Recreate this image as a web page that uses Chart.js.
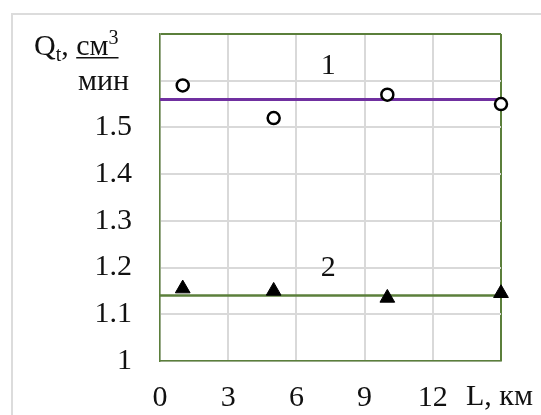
<!DOCTYPE html>
<html>
<head>
<meta charset="utf-8">
<script src="https://cdn.jsdelivr.net/npm/chart.js@4"></script>
<style>
  html, body { margin: 0; padding: 0; background: #fff; }
  #wrap { width: 541px; height: 415px; }
</style>
</head>
<body>
<div id="wrap"><canvas id="myChart" width="541" height="415"></canvas></div>
<script>
const distance = [1, 5, 10, 15];
const flow1 = [1.59, 1.52, 1.57, 1.55];
const flow2 = [1.155, 1.15, 1.135, 1.145];
const lineX = [0, 15];
const mean1 = 1.56;
const mean2 = 1.14;
const curveLabels = ['1', '2'];
const curveLabelX = [7.4, 7.4];
const curveLabelY = [1.637, 1.205];

const serif = "'Liberation Serif', 'Times New Roman', serif";
const green = '#5b7f3b';
const grey = '#d9d9d9';

Chart.defaults.font.family = serif;
Chart.defaults.font.size = 30;
Chart.defaults.color = '#111';

const frame = {
    id: 'frame',
    beforeDraw(chart) {
        const c = chart.ctx;
        c.save();
        c.fillStyle = '#fff';
        c.fillRect(0, 0, chart.width, chart.height);
        c.strokeStyle = '#dcdcdc';
        c.lineWidth = 2;
        c.strokeRect(12, 14, 700, 700);
        c.restore();
    },
    afterDraw(chart) {
        const c = chart.ctx;
        const { x, y } = chart.scales;
        c.save();
        c.fillStyle = '#111';
        c.textBaseline = 'alphabetic';

        // axis titles
        c.font = '30px ' + serif;
        c.textAlign = 'left';
        let px = 34;
        c.fillText('Q', px, 55);
        px += c.measureText('Q').width;
        c.font = '20px ' + serif;
        c.fillText('t', px, 61);
        px += c.measureText('t').width;
        c.font = '30px ' + serif;
        c.fillText(', ', px, 55);
        px += c.measureText(', ').width;
        const start = px;
        c.fillText('см', px, 55);
        px += c.measureText('см').width;
        c.font = '20px ' + serif;
        c.fillText('3', px, 44);
        px += c.measureText('3').width;
        c.fillRect(start, 57, px - start, 1.5);
        c.font = '30px ' + serif;
        c.textAlign = 'right';
        c.fillText('мин', 129, 90);
        c.textAlign = 'left';
        c.fillText('L, км', 466, 405);

        // curve numbers
        c.textAlign = 'center';
        curveLabels.forEach((t, i) => {
            c.fillText(t, x.getPixelForValue(curveLabelX[i]), y.getPixelForValue(curveLabelY[i]) + 11);
        });
        c.restore();
    }
};

new Chart(document.getElementById('myChart'), {
    type: 'scatter',
    data: {
        datasets: [
            {
                data: distance.map((d, i) => ({ x: d, y: flow1[i] })),
                pointStyle: 'circle',
                pointRadius: 6,
                pointBorderWidth: 2.5,
                pointBackgroundColor: '#fff',
                pointBorderColor: '#000',
                clip: false,
                order: 0
            },
            {
                data: distance.map((d, i) => ({ x: d, y: flow2[i] })),
                pointStyle: 'triangle',
                pointRadius: 8.5,
                pointBorderWidth: 1,
                pointBackgroundColor: '#000',
                pointBorderColor: '#000',
                clip: false,
                order: 0
            },
            {
                data: lineX.map(v => ({ x: v, y: mean1 })),
                showLine: true,
                borderColor: '#7030a0',
                borderWidth: 3,
                pointRadius: 0,
                order: 1
            },
            {
                data: lineX.map(v => ({ x: v, y: mean2 })),
                showLine: true,
                borderColor: green,
                borderWidth: 2.5,
                pointRadius: 0,
                order: 1
            }
        ]
    },
    options: {
        responsive: false,
        animation: false,
        events: [],
        layout: { padding: { left: 0, top: 34, right: 40, bottom: 0 } },
        plugins: { legend: { display: false }, tooltip: { enabled: false } },
        scales: {
            x: {
                min: 0,
                max: 15,
                afterFit(scale) {
                    scale.height = 54;
                    scale.paddingLeft = 0;
                    scale.paddingRight = 0;
                },
                ticks: {
                    stepSize: 3,
                    padding: 19,
                    maxRotation: 0,
                    callback: (v) => v === 15 ? '' : v
                },
                grid: {
                    drawTicks: false,
                    lineWidth: 2,
                    color: (c) => c.tick && c.tick.value === 15 ? green : grey
                },
                border: { color: green, width: 1.5 }
            },
            y: {
                min: 1,
                max: 1.7,
                afterFit(scale) {
                    scale.width = 160;
                    scale.paddingTop = 0;
                    scale.paddingBottom = 0;
                },
                ticks: {
                    stepSize: 0.1,
                    padding: 28,
                    callback: (v) => v > 1.55 ? '' : (Math.round(v * 10) / 10).toString()
                },
                grid: {
                    drawTicks: false,
                    lineWidth: 2,
                    color: (c) => c.tick && Math.abs(c.tick.value - 1.7) < 1e-6 ? green : grey
                },
                border: { color: green, width: 1.5 }
            }
        }
    },
    plugins: [frame]
});
</script>
</body>
</html>
